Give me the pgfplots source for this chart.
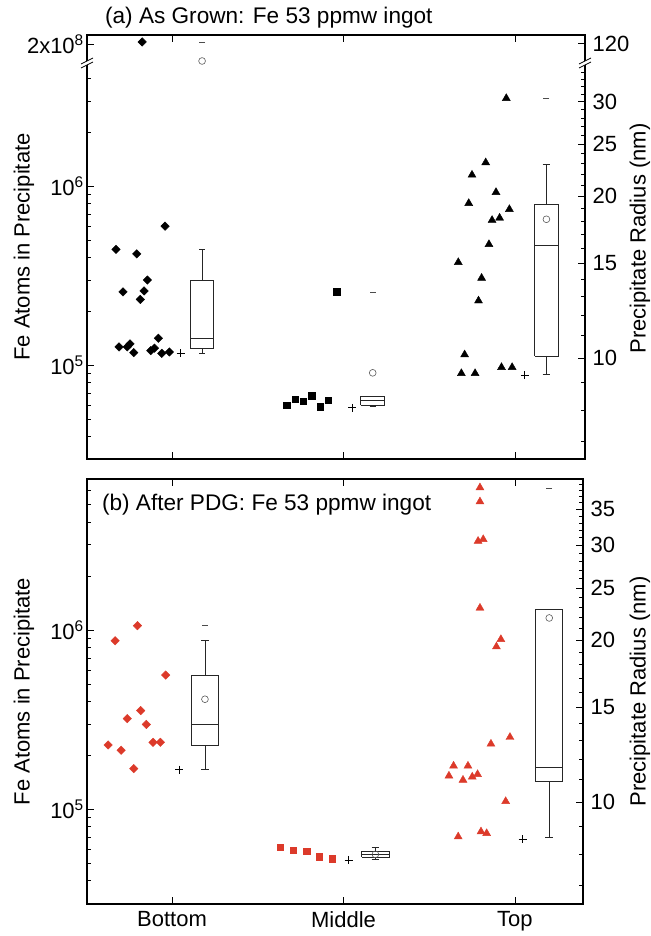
\documentclass[border=0pt]{standalone}
\usepackage{fontspec}
\setmainfont{Liberation Sans}
\usepackage{pgfplots}
\pgfplotsset{compat=1.18}

\definecolor{pdgred}{RGB}{220,58,42}

\pgfplotsset{
  every axis/.append style={scale only axis, xmin=0.504,
    tick align=inside, major tick length=7pt, minor tick length=4pt,
    axis line style={line width=1.2pt, black},
    every tick/.append style={black, line width=0.8pt}},
  dia/.style={only marks, mark=square*, mark size=3.0pt, mark options={rotate=45}},
  sq/.style={only marks, mark=square*, mark size=3.2pt},
  tri/.style={only marks, mark=triangle*, mark size=4.6pt},
  boxp/.style={black!85, line width=0.8pt, mark=none},
  meanmk/.style={only marks, mark=o, mark size=3.4pt, mark options={black!65, line width=0.6pt}},
  maxmk/.style={only marks, mark=-, mark size=3pt, mark options={black!70, line width=0.6pt}},
  plusmk/.style={only marks, mark=+, mark size=4pt, mark options={black, line width=0.8pt}},
}

\begin{document}
\fontsize{22}{26}\selectfont
\begin{tikzpicture}
\path[use as bounding box] (0pt,0pt) rectangle (650pt,-936pt);

% ---------- (a) as grown: lower part of the broken axis
\begin{axis}[at={(87pt,-35pt)}, anchor=north west,
    width=498pt, height=424pt, xmax=3.408,
    ymode=log, ymin=3.004e4, ymax=7.02e6,
    clip=false, unbounded coords=jump, ytick pos=left,
    xtick={1,2,3}, xticklabels={},
    ytick={1e5,1e6,6.25e6},
    yticklabels={10\textsuperscript{5},10\textsuperscript{6},2x10\textsuperscript{8}},
    yticklabel style={inner sep=3pt},
    minor ytick={4e4,5e4,6e4,7e4,8e4,9e4,2e5,3e5,4e5,5e5,6e5,7e5,8e5,9e5,2e6,3e6,4e6},
    ylabel={Fe Atoms in Precipitate},
    ylabel style={at={(axis description cs:-0.1265,0.5)}, anchor=center},
  ]
  \addplot[dia, black] coordinates {
    (0.673,4.45e5) (0.794,4.20e5) (0.959,6.0e5) (0.856,3.0e5) (0.714,2.58e5)
    (0.837,2.61e5) (0.815,2.34e5) (0.920,1.42e5) (0.691,1.27e5) (0.739,1.27e5)
    (0.755,1.32e5) (0.777,1.18e5) (0.876,1.21e5) (0.897,1.25e5) (0.940,1.17e5)
    (0.984,1.19e5)};
  \addplot[sq, black] coordinates {
    (1.669,6.01e4) (1.717,6.50e4) (1.766,6.34e4) (1.815,6.78e4) (1.863,5.89e4)
    (1.911,6.41e4) (1.960,2.58e5)};
  \addplot[tri, black] coordinates {
    (2.949,3.11e6) (2.829,1.36e6) (2.749,1.16e6) (2.889,9.28e5) (2.730,8.06e5)
    (2.967,7.46e5) (2.866,6.48e5) (2.910,6.67e5) (2.848,4.75e5) (2.669,3.77e5)
    (2.805,3.08e5) (2.787,2.30e5) (2.706,1.15e5) (2.687,9.04e4) (2.767,9.04e4)
    (2.921,9.77e4) (2.983,9.77e4)};
  % boxes
  \addplot[boxp] coordinates {(1.109,1.24e5) (1.241,1.24e5) (1.241,2.98e5) (1.109,2.98e5) (1.109,1.24e5)
    (1.1,nan) (1.109,1.42e5) (1.241,1.42e5) (1.1,nan) (1.175,2.98e5) (1.175,4.45e5) (1.1,nan)
    (1.159,4.45e5) (1.191,4.45e5) (1.1,nan) (1.175,1.24e5) (1.175,1.17e5) (1.1,nan)
    (1.159,1.17e5) (1.191,1.17e5)};
  \addplot[boxp] coordinates {(2.10,6.0e4) (2.24,6.0e4) (2.24,6.7e4) (2.10,6.7e4) (2.10,6.0e4)
    (2.1,nan) (2.10,6.35e4) (2.24,6.35e4) (2.1,nan) (2.17,6.0e4) (2.17,5.89e4) (2.1,nan)
    (2.152,5.89e4) (2.188,5.89e4)};
  \addplot[boxp] coordinates {(3.115,1.13e5) (3.25,1.13e5) (3.25,7.95e5) (3.115,7.95e5) (3.115,1.13e5)
    (3.1,nan) (3.115,4.69e5) (3.25,4.69e5) (3.1,nan) (3.183,7.95e5) (3.183,1.33e6) (3.1,nan)
    (3.161,1.33e6) (3.205,1.33e6) (3.1,nan) (3.183,1.13e5) (3.183,8.93e4) (3.1,nan)
    (3.161,8.93e4) (3.205,8.93e4)};
  \addplot[meanmk] coordinates {(2.17,9.1e4) (3.183,6.56e5)};
  \addplot[maxmk] coordinates {(2.17,2.58e5) (3.183,3.09e6)};
  \addplot[plusmk] coordinates {(1.05,1.17e5) (2.05,5.8e4) (3.057,8.8e4)};
  \node[anchor=base west, inner sep=0pt, font=\fontsize{22.6}{26}\selectfont] at (axis description cs:0.036,1.026) {(a) As Grown: Fe 53 ppmw ingot};
\end{axis}
% (a) compressed strip above the break
\begin{axis}[at={(87pt,-35pt)}, anchor=north west,
    width=498pt, height=28pt, xmax=3.408,
    ymode=log, ymin=8.91e6, ymax=5.64e8,
    hide axis, clip=false,
  ]
  \addplot[dia, black] coordinates {(0.826,2e8)};
  \addplot[meanmk] coordinates {(1.175,1.2e7)};
  \addplot[maxmk] coordinates {(1.175,2e8)};
\end{axis}
% (a) radius scale
\begin{axis}[at={(87pt,-35pt)}, anchor=north west,
    width=498pt, height=424pt, xmax=3.408,
    ymode=log, ymin=6.488, ymax=39.96,
    axis x line=none, axis y line*=right, clip=false,
    ytick={10,15,20,25,30,38.5}, yticklabels={10,15,20,25,30,120},
    extra y ticks={7,8,9,11,12,13,14,16,17,18,19,21,22,23,24,26,27,28,29,31,32,33,34},
    extra y tick labels={},
    extra y tick style={major tick length=4pt},
    ylabel={Precipitate Radius (nm)},
    ylabel style={at={(axis description cs:1.1104,0.52)}, anchor=center},
  ]
  % axis break marks, left and right spine
  \fill[white] ([xshift=-6pt,yshift=-5pt]rel axis cs:0,0.934) -- ([xshift=6pt,yshift=1pt]rel axis cs:0,0.934)
    -- ([xshift=6pt,yshift=5pt]rel axis cs:0,0.934) -- ([xshift=-6pt,yshift=-1pt]rel axis cs:0,0.934) -- cycle;
  \draw[black, line width=0.8pt] ([xshift=-6pt,yshift=-5pt]rel axis cs:0,0.934) -- ([xshift=6pt,yshift=1pt]rel axis cs:0,0.934);
  \draw[black, line width=0.8pt] ([xshift=-6pt,yshift=-1pt]rel axis cs:0,0.934) -- ([xshift=6pt,yshift=5pt]rel axis cs:0,0.934);
  \fill[white] ([xshift=-6pt,yshift=-5pt]rel axis cs:1,0.934) -- ([xshift=6pt,yshift=1pt]rel axis cs:1,0.934)
    -- ([xshift=6pt,yshift=5pt]rel axis cs:1,0.934) -- ([xshift=-6pt,yshift=-1pt]rel axis cs:1,0.934) -- cycle;
  \draw[black, line width=0.8pt] ([xshift=-6pt,yshift=-5pt]rel axis cs:1,0.934) -- ([xshift=6pt,yshift=1pt]rel axis cs:1,0.934);
  \draw[black, line width=0.8pt] ([xshift=-6pt,yshift=-1pt]rel axis cs:1,0.934) -- ([xshift=6pt,yshift=5pt]rel axis cs:1,0.934);
\end{axis}

% ---------- (b) after PDG
\begin{axis}[at={(87pt,-479pt)}, anchor=north west,
    width=496pt, height=425pt, xmax=3.397,
    ymode=log, ymin=2.97e4, ymax=6.97e6,
    clip=false, unbounded coords=jump, ytick pos=left,
    xtick={1,2,3}, xticklabels={Bottom,Middle,Top},
    ytick={1e5,1e6},
    yticklabels={10\textsuperscript{5},10\textsuperscript{6}},
    yticklabel style={inner sep=3pt},
    minor ytick={4e4,5e4,6e4,7e4,8e4,9e4,2e5,3e5,4e5,5e5,6e5,7e5,8e5,9e5,2e6,3e6,4e6,5e6,6e6},
    ylabel={Fe Atoms in Precipitate},
    ylabel style={at={(axis description cs:-0.127,0.5)}, anchor=center},
  ]
  \addplot[dia, pdgred] coordinates {
    (0.798,1.06e6) (0.668,8.73e5) (0.963,5.62e5) (0.817,3.56e5) (0.739,3.21e5)
    (0.850,2.98e5) (0.627,2.29e5) (0.889,2.37e5) (0.932,2.37e5) (0.703,2.14e5)
    (0.777,1.69e5)};
  \addplot[sq, pdgred] coordinates {
    (1.630,6.15e4) (1.708,5.94e4) (1.785,5.87e4) (1.859,5.44e4) (1.933,5.32e4)};
  \addplot[tri, pdgred] coordinates {
    (2.796,6.24e6) (2.796,5.21e6) (2.785,3.14e6) (2.815,3.21e6) (2.796,1.33e6)
    (2.918,8.89e5) (2.892,8.09e5) (2.971,2.53e5) (2.860,2.32e5) (2.642,1.75e5)
    (2.726,1.75e5) (2.615,1.54e5) (2.782,1.57e5) (2.751,1.52e5) (2.697,1.46e5)
    (2.946,1.11e5) (2.669,7.05e4) (2.802,7.52e4) (2.835,7.36e4)};
  \addplot[boxp] coordinates {(1.115,2.27e5) (1.27,2.27e5) (1.27,5.56e5) (1.115,5.56e5) (1.115,2.27e5)
    (1.1,nan) (1.115,2.99e5) (1.27,2.99e5) (1.1,nan) (1.192,5.56e5) (1.192,8.73e5) (1.1,nan)
    (1.17,8.73e5) (1.214,8.73e5) (1.1,nan) (1.192,2.27e5) (1.192,1.67e5) (1.1,nan)
    (1.17,1.67e5) (1.214,1.67e5)};
  \addplot[boxp] coordinates {(2.106,5.41e4) (2.265,5.41e4) (2.265,5.82e4) (2.106,5.82e4) (2.106,5.41e4)
    (2.1,nan) (2.106,5.62e4) (2.265,5.62e4) (2.1,nan) (2.186,5.82e4) (2.186,6.15e4) (2.1,nan)
    (2.164,6.15e4) (2.208,6.15e4) (2.1,nan) (2.186,5.41e4) (2.186,5.27e4) (2.1,nan)
    (2.164,5.27e4) (2.208,5.27e4)};
  \addplot[boxp] coordinates {(3.122,1.43e5) (3.278,1.43e5) (3.278,1.31e6) (3.122,1.31e6) (3.122,1.43e5)
    (3.1,nan) (3.122,1.72e5) (3.278,1.72e5) (3.1,nan) (3.2,1.43e5) (3.2,6.97e4) (3.1,nan)
    (3.178,6.97e4) (3.222,6.97e4)};
  \addplot[meanmk] coordinates {(1.192,4.12e5) (2.186,5.62e4) (3.2,1.17e6)};
  \addplot[maxmk] coordinates {(1.192,1.06e6) (3.2,6.2e6)};
  \addplot[plusmk] coordinates {(1.043,1.67e5) (2.03,5.23e4) (3.045,6.84e4)};
  \node[anchor=base west, inner sep=0pt, font=\fontsize{22.6}{26}\selectfont] at (axis description cs:0.030,0.927) {(b) After PDG: Fe 53 ppmw ingot};
\end{axis}
\begin{axis}[at={(87pt,-479pt)}, anchor=north west,
    width=496pt, height=425pt, xmax=3.397,
    ymode=log, ymin=6.465, ymax=39.86,
    axis x line=none, axis y line*=right,
    ytick={10,15,20,25,30,35}, yticklabels={10,15,20,25,30,35},
    extra y ticks={7,8,9,11,12,13,14,16,17,18,19,21,22,23,24,26,27,28,29,31,32,33,34,36,37,38,39},
    extra y tick labels={},
    extra y tick style={major tick length=4pt},
    ylabel={Precipitate Radius (nm)},
    ylabel style={at={(axis description cs:1.115,0.5)}, anchor=center},
  ]
\end{axis}
\end{tikzpicture}
\end{document}
